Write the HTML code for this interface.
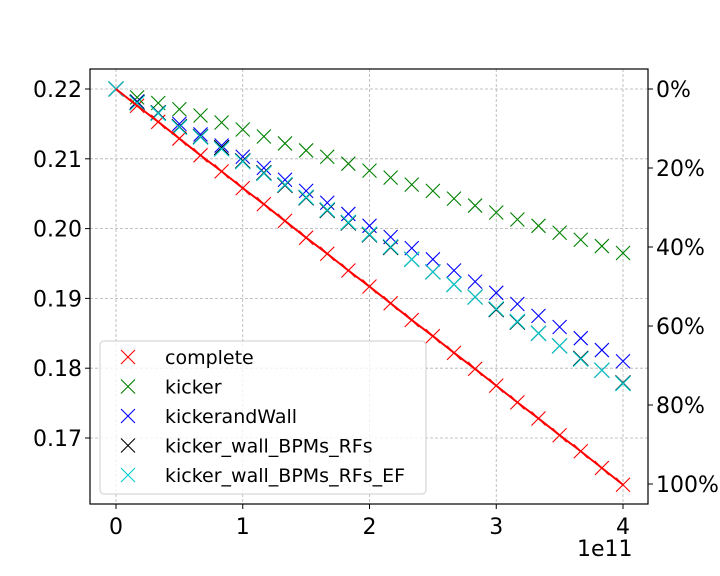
<!DOCTYPE html>
<html><head><meta charset="utf-8"><style>
body{margin:0;background:#fff}
svg{display:block;font-family:"DejaVu Sans","Liberation Sans",sans-serif}
</style></head><body>
<svg id="chart" width="720" height="576"></svg>
<script>
const xValues=[0,0.1667,0.3333,0.5,0.6667,0.8333,1,1.1667,1.3333,1.5,1.6667,1.8333,2,2.1667,2.3333,2.5,2.6667,2.8333,3,3.1667,3.3333,3.5,3.6667,3.8333,4];
const completeVals=[0.2200,0.2176,0.2153,0.2129,0.2105,0.2082,0.2058,0.2035,0.2011,0.1987,0.1964,0.1940,0.1917,0.1893,0.1869,0.1846,0.1822,0.1799,0.1775,0.1751,0.1728,0.1704,0.1681,0.1657,0.1633];
const kickerVals=[0.2200,0.2188,0.2180,0.2171,0.2162,0.2152,0.2142,0.2132,0.2122,0.2112,0.2103,0.2093,0.2083,0.2073,0.2063,0.2054,0.2043,0.2033,0.2023,0.2013,0.2004,0.1994,0.1984,0.1975,0.1965];
const wallVals=[0.2200,0.2182,0.2166,0.2150,0.2135,0.2119,0.2103,0.2087,0.2070,0.2054,0.2037,0.2021,0.2004,0.1988,0.1972,0.1956,0.1940,0.1924,0.1908,0.1892,0.1875,0.1859,0.1843,0.1826,0.1810];
const rfVals=[0.2200,0.2181,0.2166,0.2146,0.2132,0.2116,0.2097,0.2080,0.2062,0.2044,0.2026,0.2008,0.1991,0.1973,0.1956,0.1938,0.1920,0.1902,0.1884,0.1866,0.1850,0.1832,0.1814,0.1797,0.1779];
const efVals=[0.2200,0.2180,0.2165,0.2145,0.2131,0.2114,0.2096,0.2079,0.2063,0.2045,0.2027,0.2009,0.1992,0.1974,0.1956,0.1938,0.1920,0.1902,0.1885,0.1867,0.1850,0.1832,0.1813,0.1797,0.1778];
const seriesNames=["complete","kicker","kickerandWall","kicker_wall_BPMs_RFs","kicker_wall_BPMs_RFs_EF"];
const seriesColors=["#ff0000","#008000","#0000ff","#000000","#00ced1"];
const xTicks=[0,1,2,3,4];
const yTicks=[0.17,0.18,0.19,0.20,0.21,0.22];
const yTickLabels=["0.17","0.18","0.19","0.20","0.21","0.22"];
const pctTicks=[0,20,40,60,80,100];
const L=90,R=648,T=69,B=504;
const X=v=>116+v*126.75;
const Y=v=>89+(0.22-v)*6980;
const P=p=>89+p*3.95;
const svg=document.getElementById('chart');
const NS='http://www.w3.org/2000/svg';
function el(tag,attrs,parent){const e=document.createElementNS(NS,tag);for(const k in attrs)e.setAttribute(k,attrs[k]);(parent||svg).appendChild(e);return e;}
xTicks.forEach(t=>{const g=el('line',{x1:X(t),x2:X(t),y1:T,y2:B,stroke:'#b0b0b0','stroke-dasharray':'3,2','stroke-width':0.8});

});
yTicks.forEach(t=>{const g=el('line',{x1:L,x2:R,y1:Y(t),y2:Y(t),stroke:'#b0b0b0','stroke-dasharray':'3,2','stroke-width':0.8});

});
function marker(x,y,c,s,g){el('path',{d:`M${x-s},${y-s}L${x+s},${y+s}M${x-s},${y+s}L${x+s},${y-s}`,stroke:c,'stroke-width':1.1,fill:'none'},g);}
const allVals=[completeVals,kickerVals,wallVals,rfVals,efVals];
allVals.forEach((vals,i)=>{
  const g=el('g',{});
  
  
  vals.forEach((v,j)=>{
    const m=el('g',{},g);
    
    
    marker(X(xValues[j]),Y(v),seriesColors[i],i>=3?7.5:7,m);
  });
});
const pts=xValues.map((x,j)=>X(x)+','+Y(completeVals[j])).join(' ');
const line=el('polyline',{points:pts,fill:'none',stroke:'#ff0000','stroke-width':2});


const fr=el('rect',{x:L,y:T,width:R-L,height:B-T,fill:'none',stroke:'#000','stroke-width':1.2});


xTicks.forEach(t=>{el('line',{x1:X(t),x2:X(t),y1:B,y2:B+5,stroke:'#000'});
const tx=el('text',{x:X(t),y:B+30,'font-size':22,'text-anchor':'middle'});tx.textContent=t;

});
yTicks.forEach((t,i)=>{el('line',{x1:L-5,x2:L,y1:Y(t),y2:Y(t),stroke:'#000'});
const tx=el('text',{x:L-8,y:Y(t)+8,'font-size':22,'text-anchor':'end'});tx.textContent=yTickLabels[i];

});
pctTicks.forEach(t=>{el('line',{x1:R,x2:R+5,y1:P(t),y2:P(t),stroke:'#000'});
const tx=el('text',{x:R+8,y:P(t)+8,'font-size':22});tx.textContent=t+'%';

});
const off=el('text',{x:577,y:556,'font-size':22});off.textContent='1e11';


const lg=el('g',{});


el('rect',{x:100,y:341,width:326,height:153,rx:4,fill:'#fff','fill-opacity':0.8,stroke:'#ccc'},lg);
seriesNames.forEach((n,i)=>{
  const e=el('g',{},lg);
  
  
  const y=357+i*29.5;
  marker(128,y,seriesColors[i],7,e);
  const t=el('text',{x:165,y:y+7,'font-size':19},e);t.textContent=n;
});
</script>
</body></html>
